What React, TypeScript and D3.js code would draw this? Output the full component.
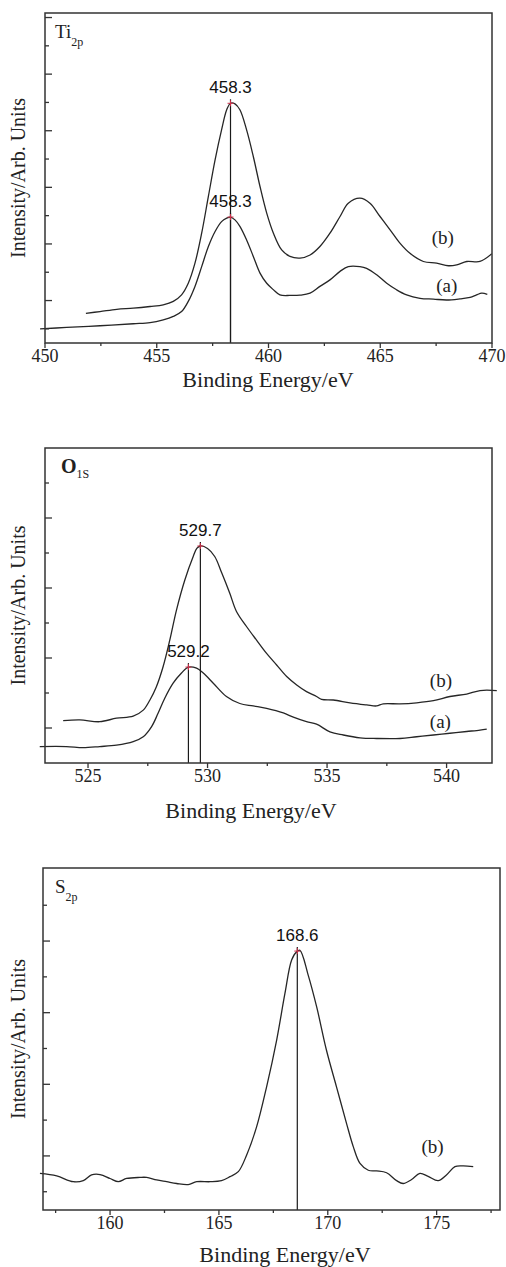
import React from "react";
import * as d3 from "d3";

// Ti 2p spectra [binding energy, intensity]
const tiCurveB: [number, number][] = [
  [451.83, 0.55], [452.46, 0.61], [453.21, 0.69], [453.95, 0.73], [454.7, 0.79], [455.29, 0.85],
  [455.74, 0.97], [456.11, 1.2], [456.41, 1.61], [456.71, 2.32], [457.01, 3.38], [457.31, 4.68],
  [457.61, 5.97], [457.9, 7.03], [458.13, 7.74], [458.3, 7.97], [458.5, 7.95], [458.72, 7.74],
  [459.02, 7.03], [459.32, 6.09], [459.62, 5.03], [459.92, 4.09], [460.22, 3.38], [460.59, 2.79],
  [460.96, 2.56], [461.41, 2.5], [461.86, 2.61], [462.3, 2.91], [462.75, 3.38], [463.2, 3.97],
  [463.57, 4.44], [464.09, 4.62], [464.54, 4.44], [464.99, 3.97], [465.44, 3.5], [465.88, 3.03],
  [466.33, 2.67], [466.93, 2.38], [467.52, 2.32], [468.05, 2.23], [468.42, 2.26], [468.87, 2.38],
  [469.46, 2.38], [469.99, 2.65],
];
const tiCurveA: [number, number][] = [
  [449.78, 0.0], [450.97, 0.05], [452.46, 0.11], [453.95, 0.18], [454.7, 0.22], [455.29, 0.32],
  [455.74, 0.44], [456.11, 0.61], [456.41, 0.97], [456.71, 1.5], [457.01, 2.2], [457.31, 2.91],
  [457.61, 3.44], [457.9, 3.79], [458.13, 3.91], [458.3, 3.95], [458.5, 3.85], [458.72, 3.62],
  [459.02, 3.14], [459.32, 2.56], [459.62, 1.97], [459.92, 1.61], [460.22, 1.38], [460.51, 1.2],
  [460.96, 1.18], [461.41, 1.19], [461.86, 1.26], [462.3, 1.5], [462.75, 1.73], [463.2, 2.03],
  [463.57, 2.2], [464.09, 2.2], [464.39, 2.14], [464.84, 1.91], [465.29, 1.61], [465.73, 1.38],
  [466.18, 1.2], [466.78, 1.08], [467.38, 1.05], [467.97, 1.02], [468.57, 1.06], [469.02, 1.11],
  [469.31, 1.2], [469.54, 1.26], [469.79, 1.22],
];

// O 1s spectra
const oCurveB: [number, number][] = [
  [523.96, 0.21], [524.66, 0.23], [525.49, 0.18], [526.19, 0.28], [526.89, 0.34], [527.31, 0.51],
  [527.59, 0.8], [527.86, 1.18], [528.14, 1.75], [528.42, 2.51], [528.7, 3.37], [529.05, 4.23],
  [529.4, 4.9], [529.55, 5.13], [529.7, 5.2], [530.0, 5.13], [530.3, 4.9], [530.6, 4.42],
  [530.93, 3.85], [531.21, 3.33], [531.63, 2.9], [532.05, 2.51], [532.47, 2.13], [532.89, 1.8],
  [533.31, 1.47], [533.73, 1.23], [534.14, 1.04], [534.56, 0.9], [534.77, 0.82], [535.26, 0.8],
  [535.96, 0.72], [536.66, 0.66], [537.07, 0.63], [537.35, 0.69], [538.05, 0.69], [538.75, 0.72],
  [539.45, 0.78], [540.14, 0.9], [540.84, 0.97], [541.4, 1.07], [542.1, 1.07],
];
const oCurveA: [number, number][] = [
  [522.98, -0.53], [524.1, -0.53], [524.79, -0.56], [525.49, -0.53], [526.19, -0.49], [526.89, -0.39],
  [527.31, -0.25], [527.66, 0.04], [527.93, 0.42], [528.21, 0.85], [528.56, 1.28], [528.91, 1.57],
  [529.2, 1.74], [529.54, 1.71], [529.82, 1.57], [530.24, 1.28], [530.79, 0.9], [531.35, 0.7],
  [531.91, 0.63], [532.47, 0.56], [533.17, 0.43], [533.59, 0.31], [534.14, 0.18], [534.56, 0.11],
  [535.12, -0.11], [535.68, -0.2], [536.38, -0.28], [537.07, -0.3], [538.05, -0.3], [538.75, -0.25],
  [539.45, -0.2], [540.14, -0.15], [540.84, -0.1], [541.4, -0.06], [541.68, -0.03],
];

// S 2p spectrum
const sCurveB: [number, number][] = [
  [156.78, 0.51], [157.55, 0.44], [158.31, 0.28], [158.77, 0.31], [159.15, 0.47], [159.54, 0.48],
  [160.0, 0.37], [160.38, 0.28], [160.76, 0.37], [161.37, 0.4], [161.68, 0.4], [162.14, 0.33],
  [162.6, 0.28], [163.06, 0.23], [163.59, 0.2], [163.98, 0.28], [164.59, 0.28], [165.12, 0.31],
  [165.51, 0.42], [165.89, 0.56], [166.27, 1.02], [166.73, 1.81], [167.19, 2.93], [167.65, 4.23],
  [168.03, 5.53], [168.34, 6.47], [168.57, 6.7], [168.72, 6.74], [169.1, 6.05], [169.49, 5.16],
  [169.94, 3.95], [170.4, 2.93], [170.86, 1.91], [171.17, 1.26], [171.48, 0.79], [171.86, 0.6],
  [172.24, 0.58], [172.7, 0.53], [173.16, 0.31], [173.46, 0.23], [173.85, 0.34], [174.23, 0.51],
  [174.61, 0.43], [175.07, 0.31], [175.45, 0.47], [175.84, 0.7], [176.22, 0.72], [176.68, 0.7],
];

const tiXTicks = [450, 455, 460, 465, 470];
const oXTicks = [525, 530, 535, 540];
const sXTicks = [160, 165, 170, 175];

const tiPeaks = [
  { e: 458.3, i: 7.97, label: "458.3" },
  { e: 458.3, i: 3.95, label: "458.3" },
];
const oPeaks = [
  { e: 529.7, i: 5.2, label: "529.7" },
  { e: 529.2, i: 1.74, label: "529.2" },
];
const sPeaks = [{ e: 168.6, i: 6.72, label: "168.6" }];

type Curve = { data: [number, number][]; tag: string; tagE: number; tagI: number };
type Peak = { e: number; i: number; label: string };

interface PanelProps {
  box: { left: number; right: number; top: number; bottom: number };
  xDomain: [number, number];
  yDomain: [number, number];
  yTicks: number[];
  yMajorOdd: boolean;
  xTicks: number[];
  curves: Curve[];
  peaks: Peak[];
  element: string;
  sub: string;
  bold?: boolean;
  elemDx: number;
  titleX: number;
  titleY: number;
}

const serif = "'Liberation Serif', 'DejaVu Serif', serif";
const sans = "'Liberation Sans', Arial, sans-serif";
const axisColor = "#333";

function Panel(p: PanelProps) {
  const { box } = p;
  const x = d3.scaleLinear().domain(p.xDomain).range([box.left, box.right]);
  const y = d3.scaleLinear().domain(p.yDomain).range([box.bottom, box.top]);
  const line = d3
    .line<[number, number]>()
    .x((d) => x(d[0]))
    .y((d) => y(d[1]))
    .curve(d3.curveCatmullRom.alpha(0.5));

  // minor x ticks every 2.5 eV
  const minorX: number[] = [];
  for (const t of p.xTicks) {
    for (const m of [t - 2.5, t + 2.5]) {
      if (m > p.xDomain[0] && m < p.xDomain[1] && !minorX.includes(m) && !p.xTicks.includes(m)) minorX.push(m);
    }
  }
  const midY = (box.top + box.bottom) / 2;

  return (
    <g>
      {/* curves */}
      {p.curves.map((c, k) => (
        <path key={k} d={line(c.data) || ""} fill="none" stroke="#262626" strokeWidth={1.3} />
      ))}
      {/* peak markers */}
      {p.peaks.map((pk, k) => (
        <g key={k}>
          <line x1={x(pk.e)} x2={x(pk.e)} y1={y(pk.i) - 4} y2={box.bottom} stroke="#1a1a1a" strokeWidth={1.2} />
          <line x1={x(pk.e) - 3} x2={x(pk.e) + 3} y1={y(pk.i)} y2={y(pk.i)} stroke="#d0304a" strokeWidth={1} />
          <line x1={x(pk.e)} x2={x(pk.e)} y1={y(pk.i) - 3} y2={y(pk.i) + 3} stroke="#d0304a" strokeWidth={1} />
          <text x={x(pk.e)} y={y(pk.i) - 10} textAnchor="middle" fontFamily={sans} fontSize={17} fill="#111">
            {pk.label}
          </text>
        </g>
      ))}
      {/* curve tags */}
      {p.curves.map((c, k) => (
        <text key={k} x={x(c.tagE)} y={y(c.tagI)} fontFamily={serif} fontSize={19} fill="#222">
          {c.tag}
        </text>
      ))}
      {/* frame */}
      <rect x={box.left} y={box.top} width={box.right - box.left} height={box.bottom - box.top}
        fill="none" stroke={axisColor} strokeWidth={1.5} />
      {/* y ticks, inward */}
      {p.yTicks.map((t) => {
        const major = (Math.abs(t) % 2 === 1) === p.yMajorOdd;
        return (
          <line key={t} x1={box.left} x2={box.left + (major ? 7 : 4)} y1={y(t)} y2={y(t)}
            stroke={axisColor} strokeWidth={1.3} />
        );
      })}
      {/* x ticks, outward */}
      {p.xTicks.map((t) => (
        <g key={t}>
          <line x1={x(t)} x2={x(t)} y1={box.bottom} y2={box.bottom + 5} stroke={axisColor} strokeWidth={1.3} />
          <text x={x(t)} y={box.bottom + 19} textAnchor="middle" fontFamily={serif} fontSize={18} fill="#222">
            {t}
          </text>
        </g>
      ))}
      {minorX.map((t) => (
        <line key={t} x1={x(t)} x2={x(t)} y1={box.bottom} y2={box.bottom + 3} stroke={axisColor} strokeWidth={1.3} />
      ))}
      {/* element label */}
      <text x={box.left + p.elemDx} y={box.top + 25} fontFamily={serif} fontSize={p.bold ? 20 : 19}
        fontWeight={p.bold ? "bold" : "normal"} fill="#222">
        {p.element}
        <tspan fontSize={12} fontWeight="normal" dy={p.bold ? 5 : 8}>{p.sub}</tspan>
      </text>
      {/* axis titles */}
      <text x={p.titleX} y={p.titleY} textAnchor="middle" fontFamily={serif} fontSize={22} fill="#222">
        Binding Energy/eV
      </text>
      <text transform={`translate(25,${midY}) rotate(-90)`} textAnchor="middle" fontFamily={serif}
        fontSize={20} fill="#222">
        Intensity/Arb. Units
      </text>
    </g>
  );
}

export default function App() {
  return (
    <svg width={506} height={1267} style={{ position: "absolute", left: 0, top: 0, background: "#fff" }}>
      <rect width={506} height={1267} fill="#fff" />
      <Panel
        box={{ left: 45, right: 492, top: 13, bottom: 343 }}
        xDomain={[450, 470]}
        yDomain={[-0.5, 11.16]}
        yTicks={d3.range(0, 12)}
        yMajorOdd={true}
        xTicks={tiXTicks}
        curves={[
          { data: tiCurveB, tag: "(b)", tagE: 467.3, tagI: 3.0 },
          { data: tiCurveA, tag: "(a)", tagE: 467.5, tagI: 1.3 },
        ]}
        peaks={tiPeaks}
        element="Ti"
        sub="2p"
        elemDx={10}
        titleX={268}
        titleY={387}
      />
      <Panel
        box={{ left: 45, right: 492, top: 448, bottom: 763 }}
        xDomain={[523.2, 541.9]}
        yDomain={[-1, 8]}
        yTicks={d3.range(0, 8)}
        yMajorOdd={false}
        xTicks={oXTicks}
        curves={[
          { data: oCurveB, tag: "(b)", tagE: 539.3, tagI: 1.17 },
          { data: oCurveA, tag: "(a)", tagE: 539.3, tagI: 0.0 },
        ]}
        peaks={oPeaks}
        element="O"
        sub="1S"
        bold={true}
        elemDx={16}
        titleX={251}
        titleY={818}
      />
      <Panel
        box={{ left: 43, right: 500, top: 868, bottom: 1210 }}
        xDomain={[156.92, 177.91]}
        yDomain={[-0.51, 9.04]}
        yTicks={d3.range(0, 9)}
        yMajorOdd={true}
        xTicks={sXTicks}
        curves={[{ data: sCurveB, tag: "(b)", tagE: 174.3, tagI: 1.08 }]}
        peaks={sPeaks}
        element="S"
        sub="2p"
        elemDx={12}
        titleX={285}
        titleY={1262}
      />
    </svg>
  );
}
